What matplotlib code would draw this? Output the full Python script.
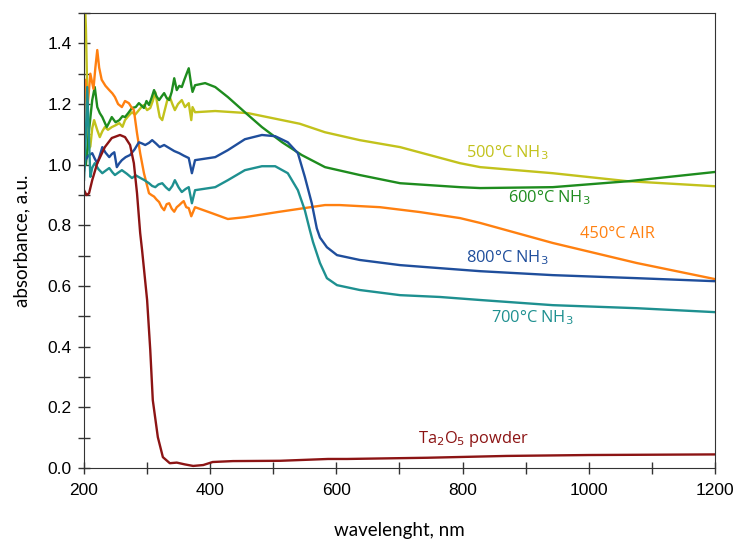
import numpy as np
import matplotlib.pyplot as plt
from matplotlib.ticker import MultipleLocator

# spectra (wavelength nm, absorbance a.u.)
wl_500 = [200, 203, 207, 210, 213, 216, 221, 225, 229, 233, 238, 244, 250, 256, 261, 265,
          270, 276, 281, 287, 291, 295, 300, 305, 309, 313, 317, 320, 324, 328, 332, 336,
          340, 344, 349, 355, 360, 366, 370, 372, 376, 408, 460, 514, 542, 582, 637, 701,
          796, 828, 943, 1060, 1200]
a_500 = [1.62, 1.45, 1.05, 1.06, 1.12, 1.147, 1.114, 1.091, 1.11, 1.124, 1.115, 1.124, 1.13,
         1.137, 1.125, 1.147, 1.16, 1.173, 1.165, 1.18, 1.19, 1.197, 1.18, 1.187, 1.21,
         1.239, 1.19, 1.157, 1.147, 1.18, 1.213, 1.223, 1.2, 1.18, 1.2, 1.213, 1.19, 1.203,
         1.147, 1.19, 1.173, 1.177, 1.17, 1.147, 1.135, 1.107, 1.081, 1.058, 1.005, 0.992,
         0.972, 0.946, 0.929]

wl_600 = [203, 208, 213, 217, 221, 225, 229, 236, 240, 244, 250, 256, 261, 265, 270, 276,
          282, 287, 291, 295, 299, 303, 307, 311, 315, 319, 323, 327, 331, 335, 339, 343,
          347, 351, 355, 359, 363, 366, 370, 372, 376, 392, 408, 428, 455, 482, 514, 545,
          582, 637, 701, 796, 828, 943, 1065, 1200]
a_600 = [1.0, 1.114, 1.213, 1.256, 1.19, 1.17, 1.157, 1.124, 1.14, 1.157, 1.14, 1.147, 1.16,
         1.157, 1.17, 1.187, 1.19, 1.203, 1.195, 1.187, 1.21, 1.197, 1.22, 1.246, 1.225,
         1.213, 1.225, 1.236, 1.22, 1.213, 1.24, 1.285, 1.246, 1.26, 1.256, 1.28, 1.302,
         1.318, 1.262, 1.24, 1.262, 1.269, 1.256, 1.223, 1.173, 1.124, 1.074, 1.032, 0.992,
         0.966, 0.939, 0.926, 0.923, 0.926, 0.946, 0.976]

wl_450 = [200, 202, 206, 210, 215, 218, 221, 224, 228, 234, 240, 245, 249, 254, 260, 265,
          271, 275, 279, 284, 289, 295, 303, 307, 311, 315, 319, 323, 327, 331, 335, 339,
          343, 347, 351, 355, 358, 362, 366, 370, 376, 403, 428, 455, 507, 582, 605, 669,
          732, 796, 828, 943, 1076, 1200]
a_450 = [1.12, 1.28, 1.2, 1.3, 1.25, 1.32, 1.378, 1.32, 1.28, 1.26, 1.246, 1.235, 1.223,
         1.2, 1.19, 1.21, 1.203, 1.19, 1.18, 1.104, 1.038, 0.972, 0.906, 0.9, 0.895, 0.885,
         0.877, 0.86, 0.85, 0.87, 0.873, 0.855, 0.845, 0.86, 0.867, 0.875, 0.88, 0.86, 0.857,
         0.83, 0.86, 0.84, 0.821, 0.827, 0.844, 0.867, 0.867, 0.86, 0.844, 0.824, 0.808,
         0.742, 0.676, 0.623]

wl_800 = [200, 202, 207, 213, 217, 221, 225, 229, 234, 240, 244, 248, 252, 256, 260, 266,
          273, 280, 287, 292, 297, 303, 308, 314, 320, 327, 335, 343, 351, 358, 366, 371,
          376, 408, 428, 455, 482, 503, 523, 539, 550, 561, 569, 574, 585, 601, 637, 701,
          764, 828, 943, 1076, 1200]
a_800 = [0.98, 1.015, 1.03, 1.038, 1.02, 1.005, 1.03, 1.058, 1.04, 1.025, 1.035, 1.041,
         0.992, 1.005, 1.015, 1.025, 1.032, 1.05, 1.074, 1.07, 1.065, 1.072, 1.081, 1.07,
         1.058, 1.065, 1.055, 1.045, 1.038, 1.03, 1.022, 0.972, 1.015, 1.025, 1.048, 1.084,
         1.098, 1.094, 1.074, 1.038, 0.96, 0.873, 0.79, 0.76, 0.728, 0.702, 0.686, 0.669,
         0.659, 0.649, 0.636, 0.626, 0.616]

wl_700 = [200, 203, 205, 210, 213, 217, 223, 229, 234, 240, 245, 249, 255, 260, 268, 276,
          282, 287, 295, 303, 308, 313, 318, 324, 330, 335, 340, 344, 350, 355, 361, 366,
          371, 376, 408, 428, 455, 482, 503, 523, 539, 550, 558, 563, 574, 585, 601, 637,
          701, 764, 828, 943, 1076, 1200]
a_700 = [0.95, 1.1, 1.256, 0.96, 0.99, 1.005, 0.985, 0.972, 0.98, 0.989, 0.975, 0.966, 0.975,
         0.982, 0.97, 0.956, 0.965, 0.959, 0.95, 0.939, 0.93, 0.926, 0.935, 0.939, 0.925,
         0.916, 0.93, 0.949, 0.925, 0.91, 0.92, 0.926, 0.873, 0.916, 0.926, 0.949, 0.982,
         0.995, 0.995, 0.972, 0.916, 0.85, 0.784, 0.745, 0.676, 0.626, 0.603, 0.587, 0.57,
         0.564, 0.554, 0.537, 0.527, 0.514]

wl_ta = [200, 204, 208, 213, 221, 233, 244, 257, 265, 273, 279, 284, 289, 292, 300, 305,
         309, 317, 325, 336, 347, 360, 373, 389, 404, 436, 511, 587, 617, 744, 870, 1000,
         1200]
a_ta = [0.916, 0.9, 0.906, 0.949, 1.005, 1.058, 1.088, 1.098, 1.091, 1.065, 1.005, 0.906,
        0.775, 0.719, 0.554, 0.389, 0.224, 0.102, 0.036, 0.016, 0.018, 0.012, 0.007, 0.01,
        0.02, 0.023, 0.024, 0.03, 0.03, 0.034, 0.04, 0.043, 0.045]

series = [
    (wl_500, a_500, '#c2c21c', '500°C NH$_3$', 805, 1.04),
    (wl_600, a_600, '#1e8c1e', '600°C NH$_3$', 872, 0.89),
    (wl_450, a_450, '#ff8010', '450°C AIR', 986, 0.77),
    (wl_800, a_800, '#1f4e9c', '800°C NH$_3$', 805, 0.695),
    (wl_700, a_700, '#1e9090', '700°C NH$_3$', 845, 0.497),
    (wl_ta, a_ta, '#8c1414', 'Ta$_2$O$_5$ powder', 729, 0.095),
]

fig = plt.figure(figsize=(7.37, 5.43), dpi=100)
ax = fig.add_axes([0.114, 0.138, 0.856, 0.838])

for wl, ab, col, lab, tx, ty in series:
    ax.plot(wl, ab, color=col, lw=1.7)
    ax.text(tx, ty, lab, color=col, fontsize=11.8, family='Open Sans', va='center')

ax.set_xlim(200, 1200)
ax.set_ylim(0, 1.5)
ax.xaxis.set_major_locator(MultipleLocator(200))
ax.xaxis.set_minor_locator(MultipleLocator(100))
ax.yaxis.set_minor_locator(MultipleLocator(0.1))
ax.set_yticks([0, 0.2, 0.4, 0.6, 0.8, 1.0, 1.2, 1.4])
ax.yaxis.set_major_formatter(plt.FormatStrFormatter('%.1f'))
ax.tick_params(which='both', direction='inout', length=8, width=1, color='#333333')
for lbl in ax.get_xticklabels() + ax.get_yticklabels():
    lbl.set_family('Liberation Sans')
    lbl.set_fontsize(12.5)
ax.tick_params(axis='x', pad=7)
ax.tick_params(axis='y', pad=5)
for s in ax.spines.values():
    s.set_color('#333333')

ax.set_xlabel('wavelenght, nm', fontsize=13.5, family='Lato', labelpad=17)
ax.set_ylabel('absorbance, a.u.', fontsize=13.5, family='Lato', labelpad=12)

fig.savefig('out.png', dpi=100)
